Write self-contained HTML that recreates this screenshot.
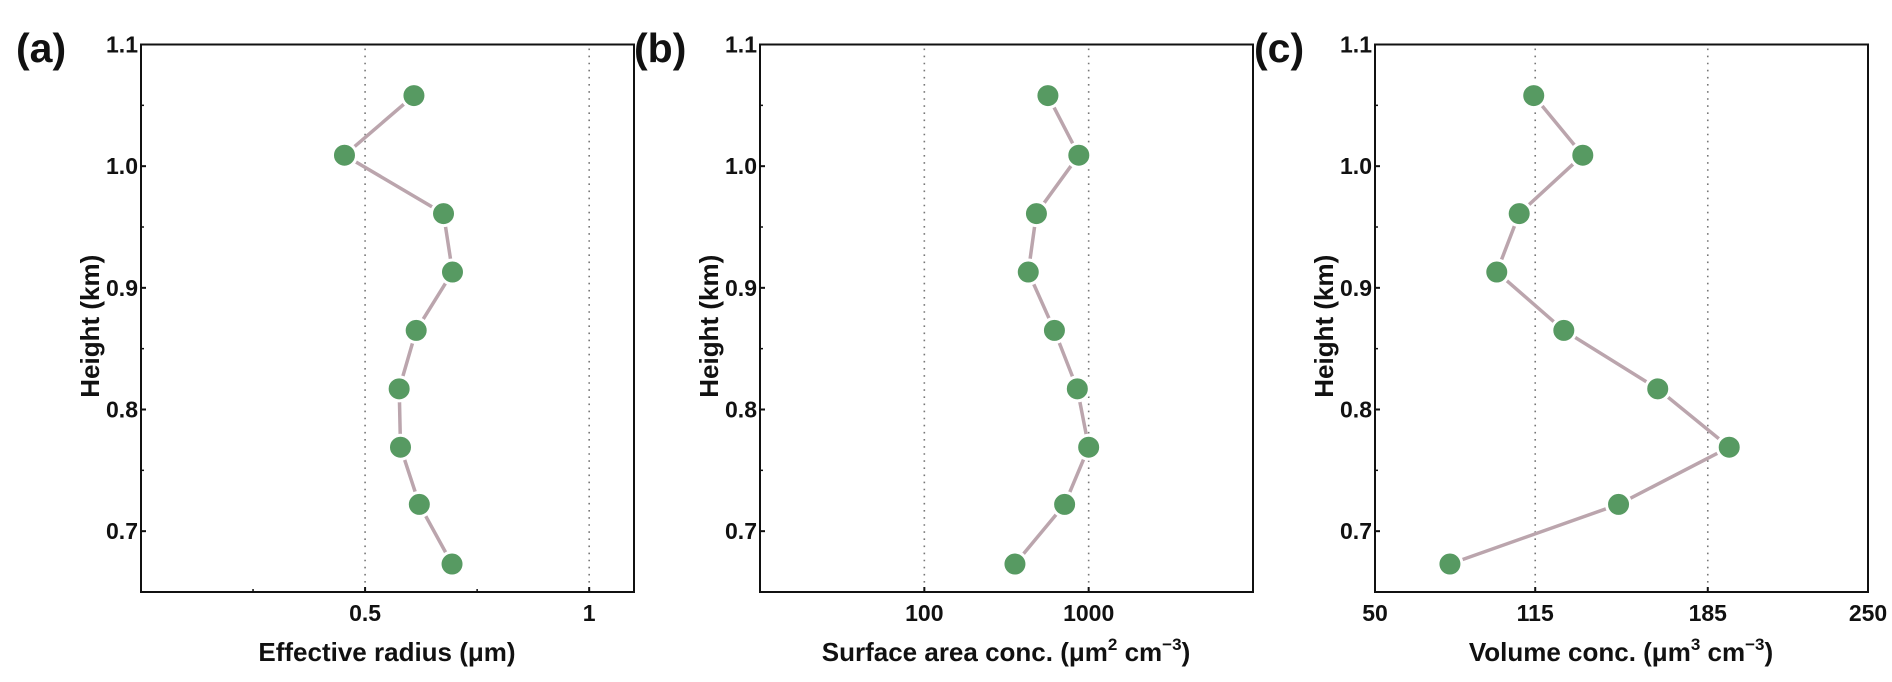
<!DOCTYPE html>
<html><head><meta charset="utf-8"><style>
html,body{margin:0;padding:0;background:#fff;}
svg{display:block;font-family:"Liberation Sans",sans-serif;}
</style></head><body>
<svg id="fig" width="1892" height="682" viewBox="0 0 1892 682"></svg>
<script>
const heights = [1.058, 1.009, 0.961, 0.913, 0.865, 0.817, 0.769, 0.722, 0.673];
const radiusValues = [0.609, 0.454, 0.675, 0.695, 0.614, 0.576, 0.579, 0.621, 0.694];
const surfaceValues = [565, 871, 481, 429, 619, 853, 1000, 714, 356];
const volumeValues = [114.4, 134.3, 108.5, 99.4, 126.6, 164.7, 193.7, 148.8, 80.4];
const yTicks = [0.7, 0.8, 0.9, 1.0, 1.1];
const yTickLabels = ["0.7", "0.8", "0.9", "1.0", "1.1"];
const radiusTicks = [0.5, 1];
const radiusTickLabels = ["0.5", "1"];
const surfaceTicks = [100, 1000];
const surfaceTickLabels = ["100", "1000"];
const volumeTicks = [50, 115, 185, 250];
const volumeTickLabels = ["50", "115", "185", "250"];

const NS = "http://www.w3.org/2000/svg";
const svg = document.getElementById("fig");
function mk(tag, attrs, parent){
  const e = document.createElementNS(NS, tag);
  for (const k in attrs) e.setAttribute(k, attrs[k]);
  (parent || svg).appendChild(e);
  return e;
}
const TOP = 44.5, BOT = 592, YMIN = 0.65, YMAX = 1.1;
function yScale(v){ return TOP + (YMAX - v) / (YMAX - YMIN) * (BOT - TOP); }

const panels = [
  {id:"a", left:141, vals:radiusValues, ticks:radiusTicks, labels:radiusTickLabels, grid:[0.5,1], minor:[0.25,0.75],
   xs:(v,L)=>L + v/1.1*493, title:"Effective radius (\u03bcm)", sup:null, tag:"(a)", tagX:16},
  {id:"b", left:760, vals:surfaceValues, ticks:surfaceTicks, labels:surfaceTickLabels, grid:[100,1000], minor:[],
   xs:(v,L)=>L + (Math.log10(v)-1)/3*493, title:"Surface area conc. (\u03bcm", sup:"2", tag:"(b)", tagX:634},
  {id:"c", left:1375, vals:volumeValues, ticks:volumeTicks, labels:volumeTickLabels, grid:[115,185], minor:[],
   xs:(v,L)=>L + (v-50)/200*493, title:"Volume conc. (\u03bcm", sup:"3", tag:"(c)", tagX:1254}
];

panels.forEach(p => {
  const g = mk("g", {});
  
  
  const L = p.left;
  const x = v => p.xs(v, L);
  p.grid.forEach(v => {
    const gl = mk("line", {x1:x(v), x2:x(v), y1:TOP+4, y2:BOT, stroke:"#777", "stroke-width":1.6, "stroke-dasharray":"1.6 5.5"}, g);
    
    
  });
  const fr = mk("rect", {x:L, y:TOP, width:493, height:BOT-TOP, fill:"none", stroke:"#111", "stroke-width":2}, g);
  
  
  yTicks.forEach((v,i) => {
    mk("line", {x1:L, x2:L+5, y1:yScale(v), y2:yScale(v), stroke:"#111", "stroke-width":2}, g);
    const t = mk("text", {x:L-3, y:yScale(v)+8, "text-anchor":"end", "font-size":23, "font-weight":"bold", fill:"#111"}, g);
    t.textContent = yTickLabels[i];
    
    
  });
  [0.75,0.85,0.95,1.05].forEach(v => mk("line", {x1:L, x2:L+3, y1:yScale(v), y2:yScale(v), stroke:"#111", "stroke-width":1.5}, g));
  p.ticks.forEach((v,i) => {
    mk("line", {x1:x(v), x2:x(v), y1:BOT, y2:BOT-5, stroke:"#111", "stroke-width":2}, g);
    const t = mk("text", {x:x(v), y:BOT+29, "text-anchor":"middle", "font-size":23, "font-weight":"bold", fill:"#111"}, g);
    t.textContent = p.labels[i];
    
    
  });
  p.minor.forEach(v => mk("line", {x1:x(v), x2:x(v), y1:BOT, y2:BOT-3, stroke:"#111", "stroke-width":1.5}, g));
  const yt = mk("text", {x:0, y:0, transform:`translate(${L-42},${(TOP+BOT)/2+8}) rotate(-90)`, "text-anchor":"middle", "font-size":26, "font-weight":"bold", fill:"#111"}, g);
  yt.textContent = "Height (km)";
  
  
  const xt = mk("text", {x:L+246, y:661, "text-anchor":"middle", "font-size":26, "font-weight":"bold", fill:"#111"}, g);
  
  
  if (p.sup) {
    xt.appendChild(document.createTextNode(p.title));
    const s1 = mk("tspan", {dy:-11, "font-size":17}, xt); s1.textContent = p.sup;
    const s2 = mk("tspan", {dy:11}, xt); s2.textContent = " cm";
    const s3 = mk("tspan", {dy:-11, "font-size":17}, xt); s3.textContent = "\u22123";
    const s4 = mk("tspan", {dy:11}, xt); s4.textContent = ")";
  } else {
    xt.textContent = p.title;
  }
  const tg = mk("text", {x:p.tagX, y:62, "font-size":41, "font-weight":"bold", fill:"#111"}, g);
  tg.textContent = p.tag;
  
  
  const pts = p.vals.map((v,i) => x(v).toFixed(1) + "," + yScale(heights[i]).toFixed(1)).join(" ");
  const pl = mk("polyline", {points:pts, fill:"none", stroke:"#bba5ad", "stroke-width":3.5}, g);
  
  
  p.vals.forEach((v,i) => {
    const c = mk("circle", {cx:x(v), cy:yScale(heights[i]), r:12, fill:"#579a62", stroke:"#fff", "stroke-width":3}, g);
    
    
  });
});
</script>
</body></html>
